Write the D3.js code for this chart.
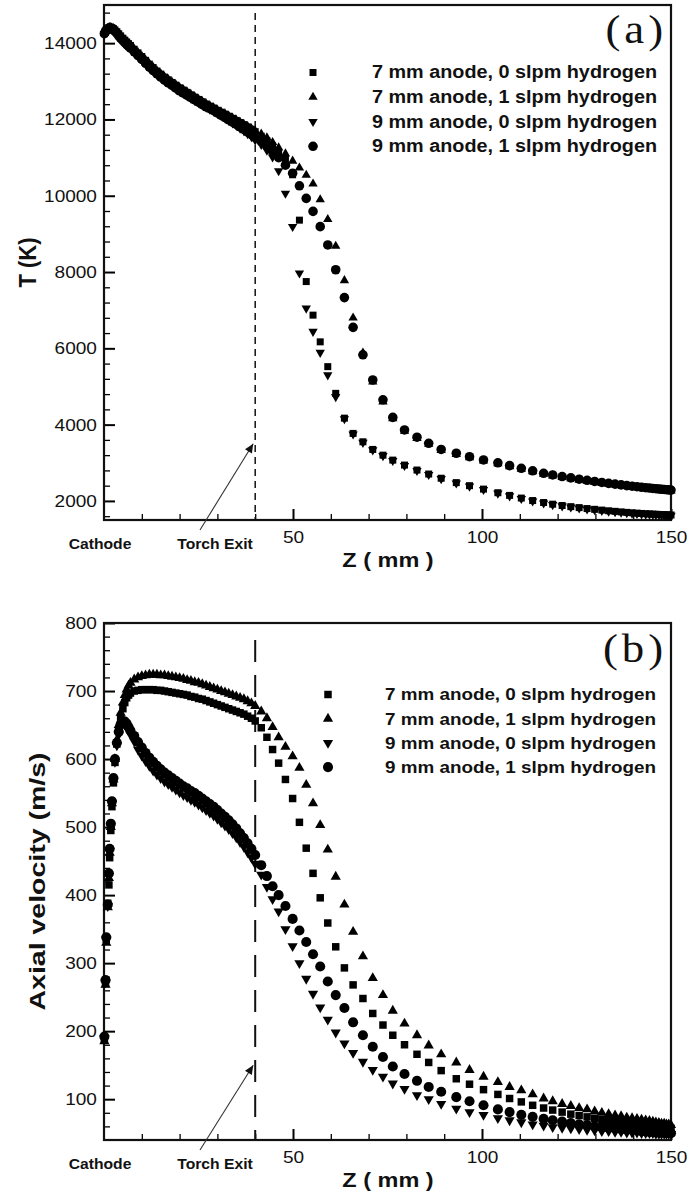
<!DOCTYPE html>
<html>
<head>
<meta charset="utf-8">
<script src="https://cdn.jsdelivr.net/npm/d3@7"></script>
<style>
  body { margin: 0; background: #fff; }
  svg { display: block; }
</style>
</head>
<body>
<div id="chart"></div>
<script>
/** Axial positions of the mesh points, mm (shared by both panels) */
const zGrid = [
  0.1, 0.4, 0.6, 1.0, 1.3, 1.5, 1.8, 2.1, 2.5, 2.9, 3.4, 3.9, 4.4, 5.0, 5.5, 6.0, 6.5, 7.0,
  8, 9, 10, 11, 12, 13, 14, 15, 16, 17, 18, 19, 20, 21, 22, 23, 24, 25, 26, 27, 28, 29, 30,
  31, 32, 33, 34, 35, 36, 37, 38, 39, 40,
  41.6, 43.1, 44.6,
  46.2, 48.0, 49.9, 51.7, 53.5, 55.3, 57.2, 59.2, 61.3, 63.6,
  65.9, 68.5, 71.1, 73.8, 76.4, 79.5, 82.8, 85.9, 89.2, 93.2,
  96.7, 100.4, 104.2, 107.3, 110.4, 113.4, 116.3, 118.7, 121.2, 123.5,
  125.7, 127.8, 129.8, 131.7, 133.5, 135.2, 136.8, 138.3, 139.7, 141,
  142.2, 143.3, 144.3, 145.2, 146, 146.8, 147.5, 148.2, 148.8, 149.4,
  150
];

/** (a) temperature, K */
const tSquare = [
  14250, 14300, 14340, 14380, 14400, 14405, 14405, 14400, 14380, 14345, 14300, 14245, 14190, 14130, 14080, 14030, 13985, 13940,
  13840, 13745, 13650, 13550, 13450, 13360, 13270, 13190, 13110, 13040, 12970, 12900, 12830, 12770, 12710, 12645, 12585, 12525,
  12465, 12405, 12350, 12300, 12240,
  12190, 12140, 12085, 12030, 11975, 11920, 11865, 11805, 11745, 11680,
  11560, 11440, 11310,
  11150, 10950, 10550, 9360, 7750, 6870, 6170, 5520, 4820, 4170,
  3770, 3550, 3350, 3200, 3070, 2940, 2810, 2705, 2595, 2480,
  2400, 2310, 2215, 2145, 2075, 2010, 1958, 1915, 1880, 1850,
  1825, 1800, 1780, 1760, 1742, 1727, 1713, 1700, 1690, 1680,
  1672, 1665, 1660, 1655, 1650, 1646, 1642, 1639, 1636, 1633,
  1631
];
const tTriUp = [
  14255, 14305, 14345, 14385, 14405, 14410, 14410, 14402, 14385, 14350, 14305, 14250, 14195, 14135, 14085, 14035, 13990, 13945,
  13850, 13755, 13660, 13560, 13460, 13370, 13280, 13200, 13120, 13050, 12980, 12910, 12840, 12780, 12720, 12655, 12595, 12535,
  12475, 12415, 12360, 12310, 12250,
  12200, 12150, 12095, 12040, 11985, 11930, 11875, 11820, 11760, 11700,
  11620, 11520, 11400,
  11260, 11100, 10910, 10730, 10540, 10310, 9900, 9380, 8680, 7780,
  6800, 5880, 5120, 4600, 4160, 3830, 3640, 3490, 3330, 3220,
  3140, 3050, 2980, 2900, 2835, 2770, 2705, 2660, 2620, 2585,
  2550, 2520, 2490, 2465, 2440, 2420, 2400, 2382, 2366, 2352,
  2338, 2328, 2318, 2308, 2300, 2293, 2287, 2280, 2276, 2272,
  2268
];
const tTriDown = [
  14245, 14295, 14335, 14375, 14395, 14395, 14388, 14375, 14345, 14300, 14245, 14180, 14115, 14050, 13995, 13945, 13900, 13855,
  13755, 13655, 13555, 13455, 13355, 13265, 13175, 13095, 13015, 12945, 12875, 12805, 12735, 12675, 12615, 12555, 12495, 12435,
  12375, 12315, 12265, 12215, 12155,
  12095, 12035, 11970, 11905, 11840, 11770, 11700, 11625, 11545, 11460,
  11340, 11190, 11010,
  10650, 10060, 9190, 7970, 7050, 6440, 5890, 5300, 4730, 4150,
  3750, 3530, 3335, 3185, 3055, 2925, 2795, 2690, 2580, 2465,
  2385, 2295, 2200, 2130, 2060, 1995, 1943, 1900, 1866, 1836,
  1811, 1786, 1766, 1746, 1728, 1713, 1699, 1686, 1676, 1666,
  1658, 1651, 1646, 1641, 1636, 1632, 1628, 1625, 1622, 1619,
  1617
];
const tCircle = [
  14250, 14300, 14338, 14376, 14396, 14396, 14390, 14378, 14350, 14308, 14255, 14190, 14128, 14065, 14012, 13962, 13917, 13872,
  13772, 13672, 13572, 13472, 13372, 13282, 13192, 13112, 13032, 12962, 12892, 12822, 12752, 12692, 12632, 12572, 12512, 12452,
  12392, 12332, 12282, 12232, 12172,
  12110, 12050, 11990, 11930, 11870, 11805, 11740, 11670, 11600, 11525,
  11420, 11300, 11160,
  11000, 10800, 10590, 10260, 9930, 9590, 9190, 8710, 8060, 7330,
  6550, 5830, 5170, 4650, 4190, 3860, 3670, 3510, 3350, 3250,
  3160, 3075, 3000, 2925, 2855, 2790, 2725, 2680, 2640, 2605,
  2570, 2540, 2510, 2485, 2460, 2440, 2420, 2402, 2386, 2372,
  2358, 2347, 2337, 2328, 2320, 2312, 2306, 2300, 2295, 2290,
  2286
];

/** (b) axial velocity, m/s */
const vSquare = [
  188, 270, 335, 388, 415, 455, 495, 530, 565, 595, 622, 643, 660, 674, 683, 690, 694, 697,
  700, 701, 702, 702, 702, 702, 701, 701, 700, 699, 698, 697, 696, 695, 694, 692, 691, 689, 688, 686, 684, 682, 680,
  678, 676, 674, 672, 670, 668, 666, 663, 660, 656,
  646, 632, 614,
  594, 570, 542, 507, 469, 432, 396, 359, 324, 293,
  268, 248, 226, 209, 194, 180, 166, 154, 142, 130,
  122, 114, 107, 101, 96, 91, 87, 84, 81, 78,
  76, 74, 72, 70, 69, 67, 66, 65, 64, 63,
  62, 61, 61, 60, 60, 59, 59, 58, 58, 57,
  57
];
const vTriUp = [
  185, 268, 330, 382, 425, 462, 500, 535, 570, 600, 628, 650, 668, 683, 694, 702, 708, 712,
  717, 720, 722, 723, 724, 724, 724, 723, 723, 722, 721, 720, 719, 718, 716, 715, 713, 712, 710, 708, 706, 704, 702,
  700, 698, 696, 694, 692, 690, 688, 685, 682, 678,
  670, 660, 647,
  632, 618, 604, 587, 562, 535, 503, 467, 427, 386,
  346, 310, 278, 253, 230, 211, 194, 179, 166, 154,
  143, 133, 125, 118, 113, 107, 101, 97, 93, 90,
  87, 85, 82, 80, 78, 76, 75, 73, 72, 71,
  70, 69, 68, 67, 66, 65, 64, 64, 63, 63,
  62
];
const vTriDown = [
  190, 272, 335, 384, 428, 465, 502, 535, 568, 596, 620, 636, 647, 652, 651, 647, 642, 636,
  626, 614, 605, 597, 590, 583, 577, 572, 567, 563, 559, 555, 551, 547, 544, 540, 537, 533, 529, 525, 521, 517, 512,
  507, 502, 497, 491, 485, 478, 471, 463, 455, 446,
  430, 412, 394,
  376, 350, 325, 300, 277, 255, 235, 217, 198, 182,
  168, 155, 143, 133, 123, 115, 106, 100, 93, 86,
  81, 77, 72, 69, 66, 63, 61, 59, 58, 57,
  56, 55, 54, 53, 53, 52, 52, 51, 51, 51,
  50, 50, 50, 50, 49, 49, 49, 49, 49, 49,
  49
];
const vCircle = [
  192, 275, 338, 386, 432, 468, 505, 538, 572, 600, 624, 640, 651, 656, 655, 652, 647, 642,
  634, 625, 617, 609, 602, 596, 590, 585, 580, 576, 572, 568, 564, 560, 557, 553, 550, 546, 542, 538, 534, 530, 525,
  520, 515, 510, 504, 498, 491, 484, 476, 468, 459,
  444, 428, 413,
  400, 384, 365, 348, 331, 313, 295, 273, 253, 234,
  213, 194, 177, 162, 148, 137, 127, 118, 111, 103,
  97, 91, 85, 81, 77, 74, 71, 69, 67, 65,
  63, 62, 60, 59, 58, 57, 56, 55, 55, 54,
  53, 53, 52, 52, 52, 51, 51, 51, 50, 50,
  50
];

const legendLabels = [
  "7 mm anode, 0 slpm hydrogen",
  "7 mm anode, 1 slpm hydrogen",
  "9 mm anode, 0 slpm hydrogen",
  "9 mm anode, 1 slpm hydrogen"
];
const markerKinds = ["square", "up", "down", "circle"];
const drawOrder = [2, 0, 1, 3]; // squares sit over the down-triangles, circles over everything
const zLabelTicks = [50, 100, 150];
const zMinorTicks = [10, 20, 30, 40, 60, 70, 80, 90, 110, 120, 130, 140];
const tLabelTicks = [2000, 4000, 6000, 8000, 10000, 12000, 14000];
const vLabelTicks = [100, 200, 300, 400, 500, 600, 700, 800];
const torchExitZ = 40;

/** Layout */
const W = 691, H = 1198;
const SX = 1.12; // the scanned figure is stretched horizontally
const sans = "'Liberation Sans', Arial, Helvetica, sans-serif";
const serif = "'Liberation Serif', 'Times New Roman', Times, serif";

const svg = d3.select("#chart").append("svg")
  .attr("width", W).attr("height", H)
  .attr("viewBox", `0 0 ${W} ${H}`);

svg.append("defs").append("marker")
  .attr("id", "arrow")
  .attr("viewBox", "0 0 10 10")
  .attr("refX", 10).attr("refY", 5)
  .attr("markerUnits", "userSpaceOnUse")
  .attr("markerWidth", 13).attr("markerHeight", 9)
  .attr("orient", "auto")
  .append("path").attr("d", "M0,0.5L10,5L0,9.5z").attr("fill", "#111");

const x = d3.scaleLinear().domain([0, 150]).range([104, 671]);

const label = (g, text, px, py, o = {}) =>
  g.append("text")
    .attr("transform", `translate(${px},${py}) scale(${SX},1)` + (o.rotate ? ` rotate(${o.rotate})` : ""))
    .attr("text-anchor", o.anchor || "middle")
    .attr("font-family", o.family || sans)
    .attr("font-size", o.size || 17)
    .attr("font-weight", o.weight || "normal")
    .attr("letter-spacing", o.spacing || null)
    .attr("textLength", o.length || null)
    .attr("lengthAdjust", o.length ? "spacingAndGlyphs" : null)
    .attr("fill", "#111")
    .text(text);

const symbolPath = (kind, size) =>
  d3.symbol(kind === "square" ? d3.symbolSquare : kind === "circle" ? d3.symbolCircle : d3.symbolTriangle).size(size[kind])();

const drawPanel = (cfg) => {
  const g = svg.append("g");
  const y = d3.scaleLinear().domain(cfg.yDomain).range([cfg.bottom, cfg.top]);

  // minor ticks
  g.append("g").attr("transform", `translate(${x(0)},0)`)
    .call(d3.axisLeft(y).tickValues(cfg.yMinor).tickSize(-6).tickSizeOuter(0).tickFormat(""))
    .call((a) => a.select(".domain").remove())
    .call((a) => a.selectAll("line").attr("stroke-width", 1.3));
  g.append("g").attr("transform", `translate(0,${cfg.bottom})`)
    .call(d3.axisBottom(x).tickValues(zMinorTicks).tickSize(-6).tickSizeOuter(0).tickFormat(""))
    .call((a) => a.select(".domain").remove())
    .call((a) => a.selectAll("line").attr("stroke-width", 1.3));

  // major ticks + labels
  g.append("g").attr("transform", `translate(${x(0)},0)`)
    .call(d3.axisLeft(y).tickValues(cfg.yTicks).tickSize(-11).tickSizeOuter(0).tickPadding(6.3).tickFormat(d3.format("d")))
    .call((a) => a.select(".domain").remove())
    .call((a) => a.selectAll("line").attr("stroke-width", 2))
    .call((a) => a.selectAll("text")
      .attr("transform", `scale(${SX},1)`)
      .attr("font-family", sans).attr("font-size", 17).attr("fill", "#111"));
  g.append("g").attr("transform", `translate(0,${cfg.bottom})`)
    .call(d3.axisBottom(x).tickValues(zLabelTicks).tickSize(-11).tickSizeOuter(0).tickPadding(11).tickFormat(d3.format("d")))
    .call((a) => a.select(".domain").remove())
    .call((a) => a.selectAll("line").attr("stroke-width", 2))
    .call((a) => a.selectAll("text")
      .attr("transform", `scale(${SX},1)`)
      .attr("font-family", sans).attr("font-size", 17).attr("fill", "#111"));

  // frame
  g.append("rect")
    .attr("x", x(0)).attr("y", cfg.top)
    .attr("width", x(150) - x(0)).attr("height", cfg.bottom - cfg.top)
    .attr("fill", "none").attr("stroke", "#111").attr("stroke-width", 2.2);

  // torch exit
  g.append("line")
    .attr("x1", x(torchExitZ)).attr("x2", x(torchExitZ))
    .attr("y1", cfg.dashTop).attr("y2", cfg.bottom)
    .attr("stroke", "#111").attr("stroke-width", cfg.dashWidth)
    .attr("stroke-dasharray", cfg.dash);
  g.append("line")
    .attr("x1", 200).attr("y1", cfg.bottom + 10)
    .attr("x2", x(torchExitZ) - 2).attr("y2", y(cfg.arrowAt))
    .attr("stroke", "#333").attr("stroke-width", 1.1)
    .attr("marker-end", "url(#arrow)");

  // data points
  drawOrder.forEach((i) => {
    const kind = markerKinds[i];
    const d = symbolPath(kind, cfg.markerSize);
    g.append("g").selectAll("path")
      .data(cfg.series[i].map((v, j) => [zGrid[j], v]))
      .join("path")
      .attr("d", d)
      .attr("fill", "#000")
      .attr("transform", (p) => `translate(${x(p[0])},${y(p[1])})` + (kind === "down" ? " rotate(180)" : ""));
  });

  // legend
  legendLabels.forEach((name, i) => {
    const ly = cfg.legend.y + i * cfg.legend.dy;
    const kind = markerKinds[i];
    g.append("path")
      .attr("d", symbolPath(kind, cfg.markerSize))
      .attr("fill", "#000")
      .attr("transform", `translate(${cfg.legend.sx},${ly})` + (kind === "down" ? " rotate(180)" : ""));
    g.append("text")
      .attr("x", cfg.legend.tx).attr("y", ly + 5.8)
      .attr("font-family", sans).attr("font-weight", "bold")
      .attr("font-size", cfg.legend.size)
      .attr("textLength", cfg.legend.width).attr("lengthAdjust", "spacingAndGlyphs")
      .attr("fill", "#111")
      .text(name);
  });

  // labels
  label(g, cfg.tag, 667, cfg.tagY, { anchor: "end", family: serif, size: 40, spacing: 3.5 });
  label(g, "Cathode", 100, cfg.bottom + 29, { size: 14, weight: "bold" });
  label(g, "Torch Exit", 215, cfg.bottom + 29, { size: 14, weight: "bold" });
  label(g, "Z ( mm )", 388, cfg.bottom + 47, { size: 21, weight: "bold" });
  label(g, cfg.yTitle, cfg.yTitleX, (cfg.top + cfg.bottom) / 2,
    { size: cfg.yTitleSize, weight: "bold", rotate: -90, length: cfg.yTitleLength });
};

drawPanel({
  tag: "(a)", tagY: 43,
  top: 5, bottom: 520,
  yDomain: [1500, 15000],
  yTicks: tLabelTicks,
  yMinor: d3.range(1600, 15000, 400).filter((v) => v % 2000 !== 0),
  yTitle: "T (K)", yTitleX: 36, yTitleSize: 21, yTitleLength: 50,
  dashTop: 13, dash: "7,5", dashWidth: 1.5,
  arrowAt: 3500,
  markerSize: { square: 49, up: 38, down: 38, circle: 72 },
  series: [tSquare, tTriUp, tTriDown, tCircle],
  legend: { sx: 313, tx: 372, y: 72.5, dy: 24.6, size: 17.5, width: 285 }
});

drawPanel({
  tag: "(b)", tagY: 662,
  top: 623, bottom: 1140,
  yDomain: [40, 800],
  yTicks: vLabelTicks,
  yMinor: d3.range(60, 800, 20).filter((v) => v % 100 !== 0),
  yTitle: "Axial velocity (m/s)", yTitleX: 45, yTitleSize: 19, yTitleLength: 258,
  dashTop: 640, dash: "22,13", dashWidth: 2,
  arrowAt: 150,
  markerSize: { square: 56, up: 45, down: 45, circle: 80 },
  series: [vSquare, vTriUp, vTriDown, vCircle],
  legend: { sx: 328, tx: 385, y: 694.5, dy: 24.2, size: 16.5, width: 271 }
});
</script>
</body>
</html>
